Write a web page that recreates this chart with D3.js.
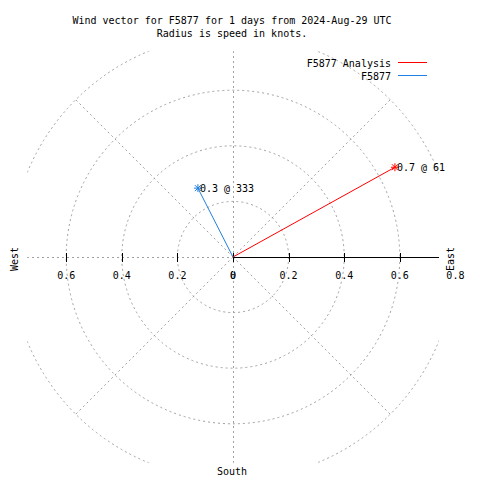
<!DOCTYPE html>
<html>
<head>
<meta charset="utf-8">
<script src="https://cdn.jsdelivr.net/npm/d3@7"></script>
<style>
  html, body { margin: 0; padding: 0; background: #fff; }
  svg { display: block; }
  text { font-family: "DejaVu Sans Mono", "Liberation Mono", monospace; font-size: 10px; fill: #000; }
</style>
</head>
<body>
<script>
// ---- data ----
const titleLines = ["Wind vector for F5877 for 1 days from 2024-Aug-29 UTC", "Radius is speed in knots."];
const seriesNames = ["F5877 Analysis", "F5877"];
const speeds = [0.666, 0.278];       // knots
const directions = [61, 333];        // degrees clockwise from north
const seriesColors = ["#ff0000", "#1f80e6"];
const ringValues = [0.2, 0.4, 0.6, 0.8];
const spokeAngles = [45, 135, 225, 315];
const leftTicks = [0.6, 0.4, 0.2, 0];
const rightTicks = [0, 0.2, 0.4, 0.6, 0.8];
const compassLabels = ["West", "East", "South"];

// ---- layout ----
const W = 480, H = 480;
const cx = 233, cy = 257;
const rMax = 0.8;
const r = d3.scaleLinear().domain([0, rMax]).range([0, 222.4]);
const half = r(0.74);

const svg = d3.select("body").append("svg").attr("width", W).attr("height", H);

svg.append("defs").append("clipPath").attr("id", "plotclip")
  .append("rect").attr("x", cx - half).attr("y", cy - half)
  .attr("width", 2 * half).attr("height", 2 * half);

const fmt = d3.format(".1f");
const tickFmt = v => v === 0 ? "0" : d3.format(".1f")(v);

// tick labels (under grid, as in reference)
const lab = svg.append("g");
lab.selectAll("text.lt").data(leftTicks).join("text")
  .attr("x", d => cx - r(d)).attr("y", 279).attr("text-anchor", "middle").text(tickFmt);
lab.selectAll("text.rt").data(rightTicks).join("text")
  .attr("x", d => cx + r(d)).attr("y", 279).attr("text-anchor", "middle").text(tickFmt);

// grid
const grid = svg.append("g").attr("clip-path", "url(#plotclip)")
  .attr("fill", "none").attr("stroke", "#a0a0a0").attr("stroke-width", 1)
  .attr("stroke-dasharray", "2,3");
grid.selectAll("circle").data(ringValues).join("circle")
  .attr("cx", cx).attr("cy", cy).attr("r", d => r(d));
grid.selectAll("line.spoke").data(spokeAngles).join("line")
  .attr("x1", cx).attr("y1", cy)
  .attr("x2", d => cx + r(rMax) * Math.sin(d * Math.PI / 180))
  .attr("y2", d => cy - r(rMax) * Math.cos(d * Math.PI / 180));
grid.append("line").attr("shape-rendering", "crispEdges")
  .attr("x1", cx - half).attr("x2", cx).attr("y1", cy + 0.5).attr("y2", cy + 0.5);
grid.append("line").attr("shape-rendering", "crispEdges")
  .attr("x1", cx + 0.5).attr("x2", cx + 0.5).attr("y1", cy - half).attr("y2", cy + half);

// axis
const ax = svg.append("g").attr("stroke", "#000").attr("stroke-width", 1).attr("shape-rendering", "crispEdges");
ax.append("line").attr("x1", cx).attr("x2", cx + half).attr("y1", cy + 0.5).attr("y2", cy + 0.5);
const tickVals = [-0.6, -0.4, -0.2, 0, 0.2, 0.4, 0.6];
ax.selectAll("line.tk").data(tickVals).join("line")
  .attr("x1", d => Math.round(cx + (d < 0 ? -r(-d) : r(d))) + 0.5)
  .attr("x2", d => Math.round(cx + (d < 0 ? -r(-d) : r(d))) + 0.5)
  .attr("y1", cy - 4).attr("y2", cy + 5);

// compass labels
svg.append("text").attr("transform", `translate(18,${cy + 2}) rotate(-90)`)
  .attr("text-anchor", "middle").text(compassLabels[0]);
svg.append("text").attr("transform", `translate(454,${cy + 2}) rotate(-90)`)
  .attr("text-anchor", "middle").text(compassLabels[1]);
svg.append("text").attr("x", cx - 1).attr("y", 475).attr("text-anchor", "middle").text(compassLabels[2]);

// title
svg.selectAll("text.title").data(titleLines).join("text")
  .attr("x", 232).attr("y", (d, i) => 24 + i * 13).attr("text-anchor", "middle").text(d => d);

// vectors
const pts = speeds.map((s, i) => ({
  x: cx + r(s) * Math.sin(directions[i] * Math.PI / 180),
  y: cy - r(s) * Math.cos(directions[i] * Math.PI / 180),
  s, d: directions[i], c: seriesColors[i]
}));
const vec = svg.append("g");
vec.selectAll("line.v").data(pts).join("line")
  .attr("x1", cx).attr("y1", cy).attr("x2", d => d.x).attr("y2", d => d.y)
  .attr("stroke", d => d.c).attr("stroke-width", 1);
const star = vec.selectAll("g.star").data(pts).join("g")
  .attr("transform", d => `translate(${d.x},${d.y})`).attr("stroke", d => d.c).attr("stroke-width", 1);
[[-4, 0, 4, 0], [0, -4, 0, 4], [-3, -3, 3, 3], [-3, 3, 3, -3]].forEach(s => {
  star.append("line").attr("x1", s[0]).attr("y1", s[1]).attr("x2", s[2]).attr("y2", s[3]);
});
vec.selectAll("text.vl").data(pts).join("text")
  .attr("x", d => d.x + 2).attr("y", d => d.y + 4)
  .text(d => `${fmt(d.s)} @ ${d.d}`);

// legend
const leg = svg.append("g");
seriesNames.forEach((n, i) => {
  const y = 62.5 + i * 13;
  leg.append("text").attr("x", 391).attr("y", y + 4.5).attr("text-anchor", "end").text(n);
  leg.append("line").attr("x1", 398).attr("x2", 427).attr("y1", y).attr("y2", y)
    .attr("stroke", seriesColors[i]).attr("stroke-width", 1);
});
</script>
</body>
</html>
